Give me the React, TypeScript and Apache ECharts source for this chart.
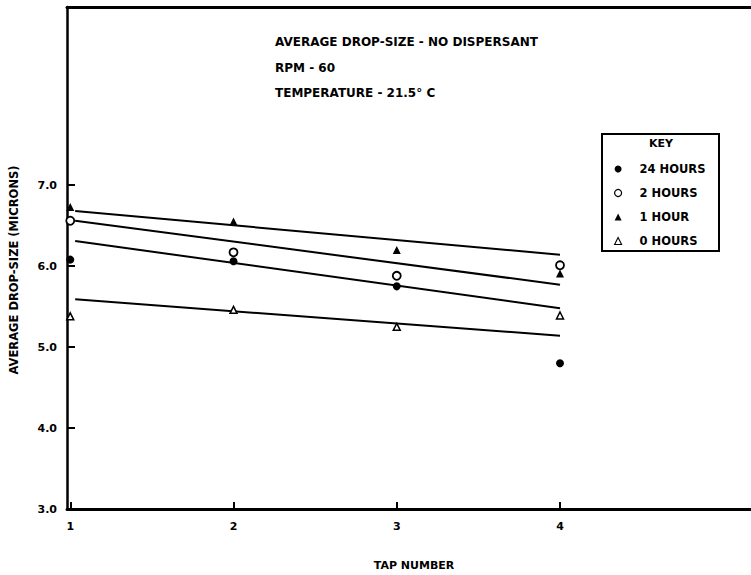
import React, { useEffect, useRef } from "react";
import * as echarts from "echarts";

// ---- data ----
const taps = [1, 2, 3, 4];
const hours24 = [6.08, 6.06, 5.75, 4.8];
const hours2 = [6.56, 6.17, 5.88, 6.01];
const hour1 = [6.73, 6.55, 6.2, 5.91];
const hours0 = [5.38, 5.46, 5.25, 5.39];

// fitted straight lines (value at line start / end tap)
const fitTaps = [1.03, 4];
const fit1Hour = [6.68, 6.14];
const fit2Hours = [6.56, 5.77];
const fit24Hours = [6.31, 5.48];
const fit0Hours = [5.59, 5.14];

const yTickValues = [3, 4, 5, 6, 7];
const seriesNames = ["24 HOURS", "2 HOURS", "1 HOUR", "0 HOURS"];
const titleLines = [
  "AVERAGE DROP-SIZE - NO DISPERSANT",
  "RPM - 60",
  "TEMPERATURE - 21.5° C",
];
const xTitle = "TAP NUMBER";
const yTitle = "AVERAGE DROP-SIZE (MICRONS)";
const keyTitle = "KEY";

const FONT = "DejaVu Sans";

const pts = (xs: number[], ys: number[]) => xs.map((x, i) => [x, ys[i]]);

export default function App() {
  const ref = useRef<HTMLDivElement>(null);
  useEffect(() => {
    if (!ref.current) return;
    const chart = echarts.init(ref.current, null, { renderer: "svg" });
    const lineSeries = (data: number[]) => ({
      type: "line",
      data: pts(fitTaps, data),
      showSymbol: false,
      symbol: "none",
      lineStyle: { color: "#000", width: 2 },
      silent: true,
      z: 1,
    });
    const option: any = {
      animation: false,
      backgroundColor: "#fff",
      textStyle: { fontFamily: FONT },
      grid: {
        left: 67,
        top: 7,
        right: 0,
        bottom: 66,
      },
      xAxis: [
        {
          type: "value",
          min: 0.98,
          max: 5.17,
          axisLine: { onZero: false, lineStyle: { color: "#000", width: 3 } },
          axisTick: {
            inside: true,
            length: 7,
            customValues: taps,
            lineStyle: { color: "#000", width: 2 },
          },
          axisLabel: {
            customValues: taps,
            color: "#000",
            fontWeight: "bold",
            fontSize: 11,
            fontFamily: FONT,
            margin: 12,
            formatter: (v: number) => String(v),
          },
          splitLine: { show: false },
        },
        {
          type: "value",
          position: "top",
          min: 0.98,
          max: 5.17,
          axisLine: { onZero: false, lineStyle: { color: "#000", width: 3 } },
          axisTick: { show: false },
          axisLabel: { show: false },
          splitLine: { show: false },
        },
      ],
      yAxis: {
        type: "value",
        min: 3,
        max: 9.2,
        interval: 1,
        axisLine: { show: true, onZero: false, lineStyle: { color: "#000", width: 2.5 } },
        axisTick: {
          show: true,
          inside: true,
          length: 8,
          customValues: yTickValues,
          lineStyle: { color: "#000", width: 2 },
        },
        axisLabel: {
          customValues: yTickValues,
          color: "#000",
          fontWeight: "bold",
          fontSize: 11,
          fontFamily: FONT,
          margin: 10,
          formatter: (v: number) => v.toFixed(1),
        },
        splitLine: { show: false },
      },
      legend: {
        orient: "vertical",
        left: 614,
        top: 162,
        padding: 0,
        itemGap: 10,
        itemWidth: 7,
        itemHeight: 7,
        selectedMode: false,
        data: [
          { name: seriesNames[0] },
          { name: seriesNames[1], itemStyle: { borderWidth: 1.2 } },
          { name: seriesNames[2] },
          { name: seriesNames[3], itemStyle: { borderWidth: 1.1 } },
        ],
        textStyle: {
          fontFamily: FONT,
          fontWeight: "bold",
          fontSize: 11.5,
          color: "#000",
          lineHeight: 14,
          padding: [0, 0, 0, 13],
        },
      },
      series: [
        lineSeries(fit1Hour),
        lineSeries(fit2Hours),
        lineSeries(fit24Hours),
        lineSeries(fit0Hours),
        {
          name: seriesNames[0],
          type: "scatter",
          data: pts(taps, hours24),
          symbol: "circle",
          symbolSize: 8,
          itemStyle: { color: "#000", opacity: 1 },
          z: 3,
        },
        {
          name: seriesNames[1],
          type: "scatter",
          data: pts(taps, hours2),
          symbol: "circle",
          symbolSize: 8,
          itemStyle: { color: "#fff", borderColor: "#000", borderWidth: 1.8, opacity: 1 },
          z: 3,
        },
        {
          name: seriesNames[2],
          type: "scatter",
          data: pts(taps, hour1),
          symbol: "triangle",
          symbolSize: 8,
          itemStyle: { color: "#000", opacity: 1 },
          z: 3,
        },
        {
          name: seriesNames[3],
          type: "scatter",
          data: pts(taps, hours0),
          symbol: "triangle",
          symbolSize: 7,
          itemStyle: { color: "#fff", borderColor: "#000", borderWidth: 1.5, opacity: 1 },
          z: 3,
        },
      ],
      graphic: [
        ...titleLines.map((t, i) => ({
          type: "text",
          x: 275,
          y: [42, 68, 93][i],
          style: {
            text: t,
            fontFamily: FONT,
            fontWeight: "bold",
            fontSize: 12,
            fill: "#000",
            align: "left",
            verticalAlign: "middle",
          },
        })),
        {
          type: "rect",
          shape: { x: 602, y: 134, width: 117, height: 117 },
          style: { fill: "none", stroke: "#000", lineWidth: 2 },
        },
        {
          type: "text",
          x: 661,
          y: 143,
          style: {
            text: keyTitle,
            fontFamily: FONT,
            fontWeight: "bold",
            fontSize: 11,
            fill: "#000",
            align: "center",
            verticalAlign: "middle",
          },
        },
        {
          type: "text",
          x: 414,
          y: 565,
          style: {
            text: xTitle,
            fontFamily: FONT,
            fontWeight: "bold",
            fontSize: 11,
            fill: "#000",
            align: "center",
            verticalAlign: "middle",
          },
        },
        {
          type: "text",
          x: 14,
          y: 270,
          rotation: Math.PI / 2,
          style: {
            text: yTitle,
            fontFamily: FONT,
            fontWeight: "bold",
            fontSize: 11.5,
            fill: "#000",
            align: "center",
            verticalAlign: "middle",
          },
        },
      ],
    };
    chart.setOption(option);
    return () => chart.dispose();
  }, []);
  return (
    <div
      ref={ref}
      style={{ position: "fixed", left: 0, top: 0, width: 751, height: 575 }}
    />
  );
}
